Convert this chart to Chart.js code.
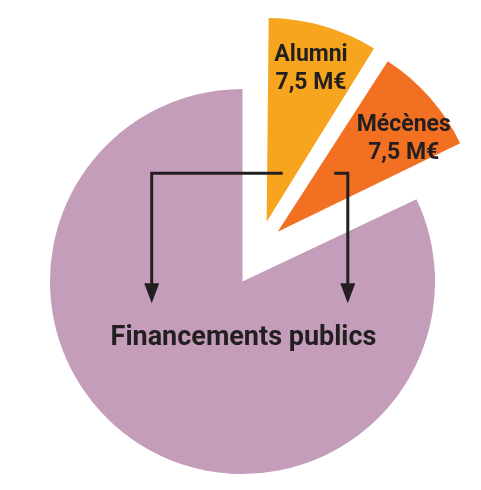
<!DOCTYPE html>
<html lang="fr">
<head>
<meta charset="UTF-8">
<title>Financement</title>
<script src="https://cdn.jsdelivr.net/npm/chart.js@4"></script>
<style>
  html, body { margin: 0; padding: 0; background: #fff; }
  .wrap { position: relative; width: 481px; height: 490px; }
  .wrap canvas { position: absolute; left: 0; top: 0; }
</style>
</head>
<body>
<div class="wrap">
  <canvas id="publicChart" width="481" height="490"></canvas>
  <canvas id="privateChart" width="481" height="490"></canvas>
</div>
<script>
// data (M€)
const labels = ['Alumni', 'Mécènes', 'Financements publics'];
const amounts = [7.5, 7.5, 68.5];
const showAmount = [true, true, false];

const colors = ['#f7a51e', '#f27022', '#c49dbb'];
const none = 'rgba(0,0,0,0)';
const textColor = '#231f20';

const fmt = v => String(v).replace('.', ',') + ' M€';

// text inside the two small slices
const sliceLabels = {
    id: 'sliceLabels',
    afterDatasetsDraw(chart, args, opts) {
        const ctx = chart.ctx;
        const arcs = chart.getDatasetMeta(0).data;
        ctx.save();
        ctx.fillStyle = textColor;
        ctx.font = '700 23px Roboto';
        ctx.textAlign = 'center';
        arcs.forEach((arc, i) => {
            if (!showAmount[i]) return;
            const half = (arc.startAngle + arc.endAngle) / 2;
            const shift = (arc.options.offset || 0) / 4;
            const cx = arc.x + Math.cos(half) * shift;
            const cy = arc.y + Math.sin(half) * shift;
            const a = half + opts.nudge[i] * Math.PI / 180;
            const r = arc.outerRadius * opts.radius;
            const x = cx + Math.cos(a) * r;
            const y = cy + Math.sin(a) * r;
            ctx.fillText(labels[i], x, y - 14);
            ctx.fillText(fmt(amounts[i]), x, y + 14);
        });
        ctx.restore();
    }
};

// the two arrows pointing at the public label
const arrows = {
    id: 'arrows',
    afterDraw(chart) {
        const ctx = chart.ctx;
        ctx.save();
        ctx.strokeStyle = textColor;
        ctx.fillStyle = textColor;
        ctx.lineWidth = 3;
        ctx.beginPath();
        ctx.moveTo(282.7, 173.3);
        ctx.lineTo(151.7, 173.3);
        ctx.lineTo(151.7, 285);
        ctx.moveTo(334.3, 173.3);
        ctx.lineTo(347.8, 173.3);
        ctx.lineTo(347.8, 285);
        ctx.stroke();
        [151.7, 347.8].forEach(x => {
            ctx.beginPath();
            ctx.moveTo(x - 7.5, 283.3);
            ctx.lineTo(x + 7.5, 283.3);
            ctx.lineTo(x, 303.3);
            ctx.closePath();
            ctx.fill();
        });
        ctx.restore();
    }
};

const publicLabel = {
    id: 'publicLabel',
    afterDatasetsDraw(chart) {
        const ctx = chart.ctx;
        const arc = chart.getDatasetMeta(0).data[2];
        ctx.save();
        ctx.fillStyle = textColor;
        ctx.font = '700 27px Roboto';
        ctx.textAlign = 'center';
        ctx.fillText(labels[2], arc.x + 1, arc.y + 63);
        ctx.restore();
    }
};

const common = {
    responsive: false,
    animation: false,
    events: [],
    plugins: { legend: { display: false }, tooltip: { enabled: false } }
};

// big slice on its own canvas (different radius / centre)
new Chart(document.getElementById('publicChart'), {
    type: 'pie',
    data: {
        labels: labels,
        datasets: [{
            data: amounts,
            backgroundColor: [none, none, colors[2]],
            borderWidth: 0,
            clip: false
        }]
    },
    options: Object.assign({}, common, {
        radius: 192.5,
        layout: { padding: { left: 4, right: 0, top: 73, bottom: 0 } }
    }),
    plugins: [publicLabel]
});

// the two pulled-out slices
new Chart(document.getElementById('privateChart'), {
    type: 'pie',
    data: {
        labels: labels,
        datasets: [{
            data: amounts,
            backgroundColor: [colors[0], colors[1], none],
            borderWidth: 0,
            offset: [110, 100, 0],
            clip: false
        }]
    },
    options: Object.assign({}, common, {
        radius: 191.1,
        layout: { padding: { left: 37, right: 0, top: 6.4, bottom: 0 } },
        plugins: Object.assign({}, common.plugins, {
            sliceLabels: { radius: 0.8, nudge: [0.7, 7] }
        })
    }),
    plugins: [sliceLabels, arrows]
});
</script>
</body>
</html>
